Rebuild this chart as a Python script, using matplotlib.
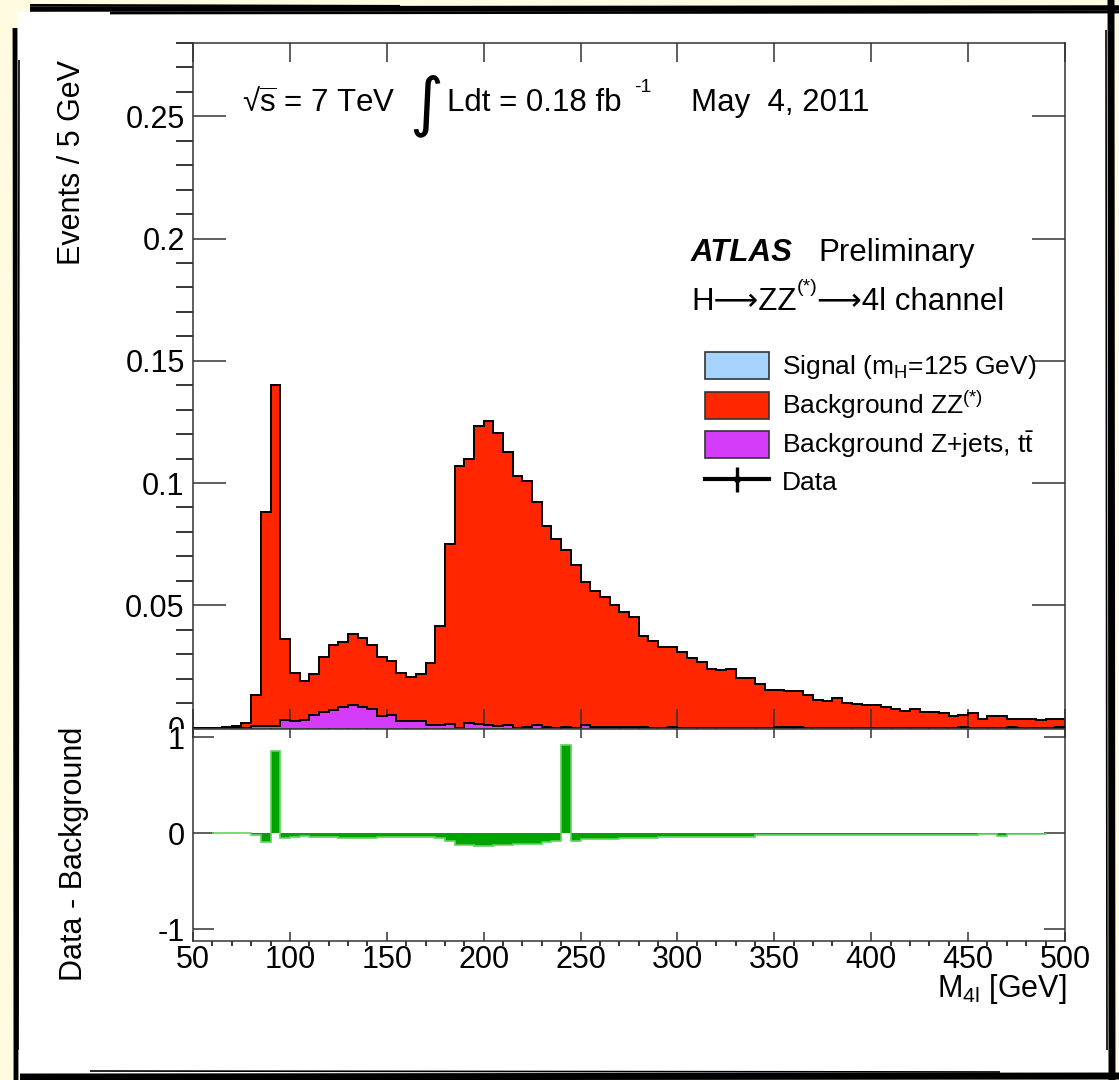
import numpy as np
import matplotlib.pyplot as plt
from matplotlib.patches import Patch, Rectangle
from matplotlib.lines import Line2D

plt.rcParams['font.family'] = ['Liberation Sans', 'DejaVu Sans']
plt.rcParams['mathtext.fontset'] = 'custom'
plt.rcParams['mathtext.rm'] = 'Liberation Sans'
plt.rcParams['mathtext.it'] = 'Liberation Sans:italic'
plt.rcParams['mathtext.bf'] = 'Liberation Sans:bold'
plt.rcParams['mathtext.default'] = 'regular'
plt.rcParams['axes.unicode_minus'] = False

# 5 GeV bins, 50 - 500 GeV
edges = np.arange(50, 505, 5)

# top of the stacked background (ZZ + Z+jets), per bin
bkg_total = [0, 0, 0, 0.0002, 0.0005, 0.0019, 0.0133, 0.0882, 0.1403, 0.0361,
             0.0222, 0.0189, 0.0218, 0.0287, 0.0336, 0.0348, 0.0381, 0.0366, 0.0336, 0.0287,
             0.0273, 0.0224, 0.0208, 0.0218, 0.0263, 0.0416, 0.0751, 0.1069, 0.1097, 0.1235,
             0.1254, 0.1204, 0.1125, 0.1029, 0.1007, 0.0922, 0.0824, 0.0770, 0.0728, 0.0663,
             0.0597, 0.0558, 0.0535, 0.0502, 0.0473, 0.0450, 0.0376, 0.0355, 0.0331, 0.0331,
             0.0307, 0.0286, 0.0268, 0.0239, 0.0234, 0.0239, 0.0201, 0.0201, 0.0177, 0.0155,
             0.0155, 0.0148, 0.0148, 0.0131, 0.0114, 0.0109, 0.0121, 0.0102, 0.0097, 0.0091,
             0.0091, 0.0082, 0.0075, 0.0069, 0.0075, 0.0064, 0.0064, 0.0058, 0.0048, 0.0053,
             0.0058, 0.0034, 0.0048, 0.0048, 0.0035, 0.0035, 0.0035, 0.0029, 0.0035, 0.0035]

# Z+jets, ttbar component
zjets = [0, 0, 0, 0, 0, 0, 0.0007, 0.0007, 0.0007, 0.0030,
         0.0025, 0.0030, 0.0053, 0.0064, 0.0070, 0.0083, 0.0092, 0.0083, 0.0077, 0.0048,
         0.0052, 0.0025, 0.0025, 0.0025, 0.0010, 0.0010, 0.0015, 0, 0.0020, 0.0016,
         0.0010, 0.0005, 0.0010, 0, 0.0004, 0.0010, 0.0004, 0, 0.0004, 0,
         0.0010, 0.0003, 0.0003, 0.0003, 0.0003, 0.0003, 0.0003, 0, 0, 0.0003,
         0, 0, 0, 0, 0, 0, 0, 0, 0, 0,
         0.0003, 0.0003, 0.0003, 0, 0, 0, 0, 0, 0, 0,
         0, 0, 0, 0, 0, 0, 0, 0, 0, 0.0003,
         0, 0, 0, 0, 0.0003, 0, 0, 0, 0, 0.0003]

# data - background, 60 - 490 GeV
diff_edges = np.arange(60, 495, 5)
data_minus_bkg = [0, 0, 0, 0, -0.017, -0.09, 0.86, -0.048, -0.035, -0.024,
                  -0.035, -0.035, -0.035, -0.045, -0.045, -0.045, -0.045, -0.035, -0.035, -0.035,
                  -0.035, -0.035, -0.035, -0.048, -0.08, -0.12, -0.12, -0.135, -0.135, -0.12,
                  -0.12, -0.107, -0.107, -0.107, -0.093, -0.08, 0.925, -0.075, -0.062, -0.062,
                  -0.062, -0.062, -0.05, -0.05, -0.05, -0.05, -0.035, -0.035, -0.035, -0.035,
                  -0.035, -0.035, -0.035, -0.035, -0.035, -0.035, -0.02, -0.02, -0.02, -0.02,
                  -0.02, -0.02, -0.02, -0.02, -0.02, -0.02, -0.02, -0.02, -0.02, -0.02,
                  -0.02, -0.02, -0.02, -0.02, -0.02, -0.02, -0.02, -0.02, -0.02, -0.005,
                  -0.005, -0.024, -0.005, -0.005, -0.005, -0.005]

xticks = [50, 100, 150, 200, 250, 300, 350, 400, 450, 500]
main_yticks = [0, 0.05, 0.1, 0.15, 0.2, 0.25]
main_ylabels = ['0', '0.05', '0.1', '0.15', '0.2', '0.25']
ratio_yticks = [-1, 0, 1]
ratio_ylabels = ['-1', '0', '1']

red = '#ff2600'
magenta = '#d43cfa'
sig_blue = '#a6d4ff'
green = '#00a300'
axcol = '#333333'

W, H = 1119, 1080
fig = plt.figure(figsize=(W / 100, H / 100), dpi=100)
fig.patch.set_facecolor('#fffbe0')


def fx(x):
    return x / W


def fy(y):
    return 1 - y / H


# white sheet + sketchy black border
fig.add_artist(Rectangle((fx(17), fy(1075)), fx(1108 - 17), (1075 - 12) / H,
                         transform=fig.transFigure, facecolor='white', edgecolor='none', zorder=-2))
strokes = [([30, 1119], [9, 8], 4.0), ([110, 1119], [13, 12], 2.0), ([30, 400], [5, 6], 1.5),
           ([15, 16], [28, 1080], 3.5), ([19, 18], [60, 1050], 1.2),
           ([20, 1119], [1077, 1076], 5.0), ([90, 1000], [1071, 1072], 1.2),
           ([1111, 1112], [0, 1080], 5.0), ([1106, 1107], [30, 1050], 1.2)]
for xs, ys, lw in strokes:
    fig.add_artist(Line2D([fx(v) for v in xs], [fy(v) for v in ys], color='black', lw=lw,
                          transform=fig.transFigure, solid_capstyle='butt'))

left, right = 193, 1065
ax = fig.add_axes([fx(left), fy(727.5), fx(right - left), (727.5 - 43) / H])
ax2 = fig.add_axes([fx(left), fy(941), fx(right - left), (941 - 729) / H])
ax2.set_zorder(2)

# stacked background
ax.stairs(bkg_total, edges, fill=True, color=red, zorder=1)
ax.stairs(bkg_total, edges, color='black', lw=1.4, zorder=2)
ax.stairs(zjets, edges, fill=True, color=magenta, zorder=3)
ax.stairs(zjets, edges, color='black', lw=1.4, zorder=4)

ax.set_xlim(50, 500)
ax.set_ylim(0, 0.2794)
ax.set_xticks(xticks)
ax.set_xticks(np.arange(60, 500, 10), minor=True)
ax.set_yticks(main_yticks, main_ylabels)
ax.set_yticks(np.arange(0, 0.28, 0.01), minor=True)
ax.tick_params(axis='both', direction='in', top=True, right=True, color=axcol, width=1.1,
               labelsize=22, labelbottom=False)
ax.tick_params(axis='x', which='major', length=13.5)
ax.tick_params(axis='x', which='minor', length=6.5, width=1.1)
ax.tick_params(axis='y', which='major', length=24, pad=6)
ax.tick_params(axis='y', which='minor', length=12, width=1.1)
for s in ax.spines.values():
    s.set_color(axcol)
    s.set_linewidth(1.1)

ax.text(-0.1388, 0.975, 'Events / 5 GeV', transform=ax.transAxes, rotation=90,
        ha='center', va='top', fontsize=22)

# header texts
ax.text(0.0562, 0.90, '\u221a$\\overline{\\rm s}$ = 7 TeV', transform=ax.transAxes,
        fontsize=22.5, va='baseline')
ax.text(0.268, 0.9086, '\u222b', transform=ax.transAxes, fontsize=47, ha='center', va='center',
        family='DejaVu Sans')
ax.text(0.2913, 0.90, 'Ldt = 0.18 fb', transform=ax.transAxes, fontsize=22.5, va='baseline')
ax.text(0.506, 0.9357, '-1', transform=ax.transAxes, fontsize=14, va='center')
ax.text(0.571, 0.90, 'May  4, 2011', transform=ax.transAxes, fontsize=22.5, va='baseline')
ax.text(0.571, 0.6815, 'ATLAS', transform=ax.transAxes, fontsize=22.5, va='baseline',
        fontweight='bold', style='italic')
ax.text(0.7167, 0.6815, 'Preliminary', transform=ax.transAxes, fontsize=22.5, va='baseline')

# channel label, built from pieces so the long arrows can come from DejaVu Sans
ch1 = ax.text(0.571, 0.60, 'H\u27f6ZZ', transform=ax.transAxes, fontsize=22.5, va='bottom')
ch2 = ax.annotate('(*)', xy=(1.0, 0.97), xycoords=ch1, fontsize=14, ha='left', va='center')
ax.annotate('\u27f64l channel', xy=(1.0, 0.0), xycoords=(ch2, ch1), fontsize=22.5,
            ha='left', va='bottom')

handles = [Patch(facecolor=sig_blue, edgecolor=axcol, lw=1.2),
           Patch(facecolor=red, edgecolor=axcol, lw=1.2),
           Patch(facecolor=magenta, edgecolor=axcol, lw=1.2),
           (Line2D([], [], color='black', lw=3),
            Line2D([], [], color='black', marker='|', ms=18, mew=2.4, ls=''),
            Line2D([], [], color='black', marker='o', ms=4, ls=''))]
labels = ['Signal (m$_{H}$=125 GeV)', 'Background ZZ$^{(*)}$',
          r'Background Z+jets, t$\bar{\rm t}$', 'Data']
ax.legend(handles, labels, loc='upper left', bbox_to_anchor=(0.587, 0.549), frameon=False,
          fontsize=19, handlelength=2.42, handleheight=1.2, handletextpad=0.5,
          labelspacing=0.3, borderpad=0, borderaxespad=0)

# ratio panel
ax2.stairs(data_minus_bkg, diff_edges, fill=True, color=green, zorder=1)
ax2.stairs(data_minus_bkg, diff_edges, color='#5fd35f', lw=1.2, zorder=2)
ax2.add_patch(Rectangle((-0.15, 0), 0.15, 1, transform=ax2.transAxes, facecolor='white',
                        edgecolor='none', clip_on=False, zorder=0.5))
ax2.set_xlim(50, 500)
ax2.set_ylim(-1.12, 1.0885)
ax2.set_xticks(xticks, [str(v) for v in xticks])
ax2.set_xticks(np.arange(60, 500, 10), minor=True)
ax2.set_yticks(ratio_yticks, ratio_ylabels)
ax2.tick_params(axis='both', direction='in', top=True, right=True, color=axcol, width=1.1,
                labelsize=22)
ax2.tick_params(axis='x', which='major', length=6.5, pad=3)
ax2.tick_params(axis='x', which='minor', length=3.6, width=1.1)
ax2.tick_params(axis='y', which='major', length=15, pad=6)
for s in ax2.spines.values():
    s.set_color(axcol)
    s.set_linewidth(1.1)

ax2.text(-0.1365, 1.01, 'Data - Background', transform=ax2.transAxes, rotation=90,
         ha='center', va='top', fontsize=22)
ax2.text(1.002, -0.265, 'M$_{4l}$ [GeV]', transform=ax2.transAxes, ha='right',
         va='baseline', fontsize=22)

fig.savefig('out.png', dpi=100)
